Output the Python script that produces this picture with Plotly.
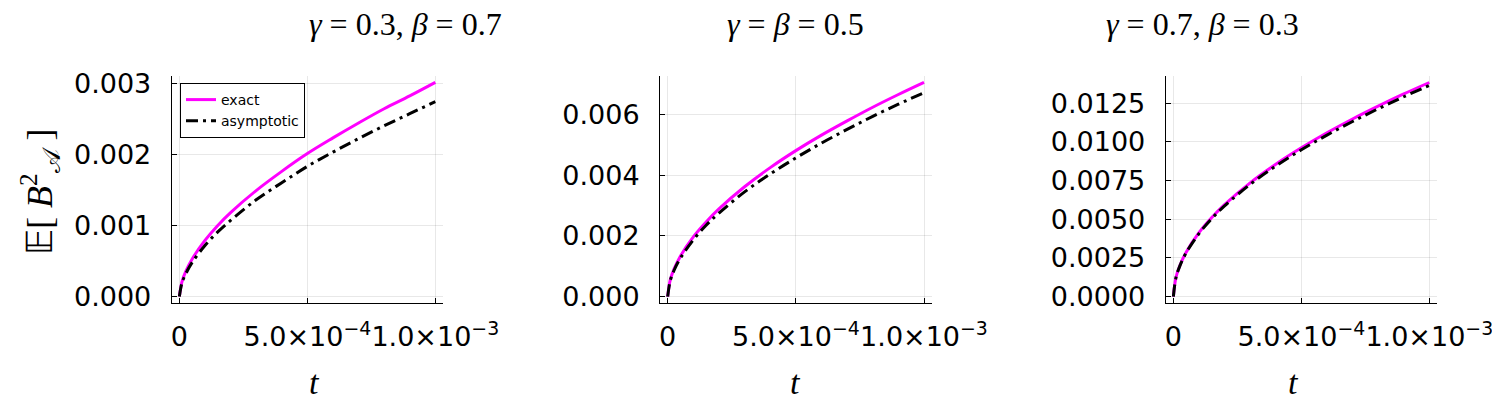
import plotly.graph_objects as go

# time grid (shared by all three panels)
t = [0, 1e-5, 2.5e-5, 5e-5, 1e-4, 1.5e-4, 2e-4, 3e-4, 4e-4, 5e-4, 6e-4, 7e-4, 8e-4, 9e-4, 1e-3]

# gamma = 0.3, beta = 0.7
exact_1 = [0, 0.000208, 0.000353, 0.000528, 0.000789, 0.000999, 0.00118, 0.00149,
           0.00176, 0.00201, 0.00223, 0.00244, 0.00264, 0.00282, 0.00301]
asym_1 = [0, 0.000189, 0.000321, 0.000480, 0.000718, 0.000909, 0.00107, 0.00136,
          0.00160, 0.00183, 0.00203, 0.00222, 0.00240, 0.00257, 0.00274]

# gamma = beta = 0.5
exact_2 = [0, 0.000548, 0.000911, 0.00134, 0.00197, 0.00246, 0.00289, 0.00362,
           0.00425, 0.00481, 0.00532, 0.00579, 0.00624, 0.00666, 0.00706]
asym_2 = [0, 0.000521, 0.000867, 0.00127, 0.00187, 0.00235, 0.00275, 0.00345,
          0.00404, 0.00457, 0.00506, 0.00551, 0.00594, 0.00634, 0.00672]

# gamma = 0.7, beta = 0.3
exact_3 = [0, 0.001232, 0.001994, 0.00287, 0.00413, 0.00511, 0.00594, 0.00735,
           0.00855, 0.00961, 0.01058, 0.01147, 0.01230, 0.01309, 0.01383]
asym_3 = [0, 0.001215, 0.001967, 0.00283, 0.00407, 0.00504, 0.00586, 0.00725,
          0.00843, 0.00948, 0.01043, 0.01131, 0.01213, 0.01291, 0.01364]

titles = ["<i>γ</i> = 0.3, <i>β</i> = 0.7", "<i>γ</i> = <i>β</i> = 0.5", "<i>γ</i> = 0.7, <i>β</i> = 0.3"]
x_tickvals = [0, 5e-4, 1e-3]
x_ticktext = ["0", "5.0×10<sup>−4</sup>", "1.0×10<sup>−3</sup>"]
y_tickvals = [
    [0, 0.001, 0.002, 0.003],
    [0, 0.002, 0.004, 0.006],
    [0, 0.0025, 0.005, 0.0075, 0.01, 0.0125],
]
y_formats = [".3f", ".3f", ".4f"]
y_ranges = [[-0.0000903, 0.0031], [-0.000212, 0.00727], [-0.000415, 0.01425]]

MAGENTA = "#ff00ff"
# the page body adds an 8px offset, so the figure is a bit smaller than the window
OFF = 8
W, H = 1500 - OFF, 400 - OFF


def px_x(p):
    return (p - OFF) / W


def px_y(p):
    return 1 - (p - OFF) / H


x_domains = [[px_x(171.7), px_x(443)], [px_x(660), px_x(931.7)], [px_x(1165.7), px_x(1437)]]
y_domain = [px_y(303), px_y(76)]

fig = go.Figure()
series = [(exact_1, asym_1), (exact_2, asym_2), (exact_3, asym_3)]
for i, (ex, asy) in enumerate(series):
    ax = "" if i == 0 else str(i + 1)
    fig.add_trace(go.Scatter(
        x=t, y=ex, mode="lines", name="exact", line=dict(color=MAGENTA, width=3, shape="spline"),
        xaxis="x" + ax, yaxis="y" + ax, showlegend=(i == 0),
    ))
    fig.add_trace(go.Scatter(
        x=t, y=asy, mode="lines", name="asymptotic",
        line=dict(color="black", width=3, dash="12px,5px,3px,5px", shape="spline"),
        xaxis="x" + ax, yaxis="y" + ax, showlegend=(i == 0),
    ))

axis_common = dict(
    showline=True, linecolor="black", linewidth=1, mirror=False, automargin=False,
    showgrid=True, gridcolor="rgba(0,0,0,0.09)", gridwidth=1, zeroline=False,
    ticks="inside", ticklen=5, tickcolor="black",
    tickfont=dict(family="DejaVu Sans", size=27, color="black"),
)

layout = dict(
    width=W, height=H, margin=dict(l=0, r=0, t=0, b=0, autoexpand=False),
    plot_bgcolor="white", paper_bgcolor="white",
    legend=dict(
        x=px_x(180), y=px_y(83), xanchor="left", yanchor="top",
        bgcolor="white", bordercolor="black", borderwidth=1,
        font=dict(family="DejaVu Sans", size=14, color="black"),
        tracegroupgap=0, itemwidth=30,
    ),
    annotations=[],
)

for i in range(3):
    ax = "" if i == 0 else str(i + 1)
    layout["xaxis" + ax] = dict(
        axis_common, domain=x_domains[i], range=[-3e-5, 1.03e-3], anchor="y" + ax,
        tickvals=x_tickvals, ticktext=x_ticktext, tickangle=0, ticklabelstandoff=10,
    )
    layout["yaxis" + ax] = dict(
        axis_common, domain=y_domain, range=y_ranges[i], anchor="x" + ax,
        tickvals=y_tickvals[i], tickformat=y_formats[i], ticklabelstandoff=14,
    )
    cx = (x_domains[i][0] + x_domains[i][1]) / 2
    layout["annotations"].append(dict(
        text=titles[i], x=cx, y=px_y(24), xref="paper", yref="paper", yanchor="middle",
        showarrow=False, font=dict(family="Liberation Serif", size=32, color="black"),
    ))
    layout["annotations"].append(dict(
        text="<i>t</i>", x=cx, y=px_y(382), xref="paper", yref="paper", yanchor="middle",
        showarrow=False, font=dict(family="Liberation Serif", size=34, color="black"),
    ))

layout["annotations"].append(dict(
    text="𝔼[ <i>B</i><sup>2</sup><sub>𝒜</sub> ]", x=px_x(40), y=px_y(192),
    xref="paper", yref="paper", xanchor="center", yanchor="middle",
    textangle=-90, showarrow=False,
    font=dict(family="Liberation Serif", size=36, color="black"),
))

fig.update_layout(**layout)
fig.write_html("out.html")
